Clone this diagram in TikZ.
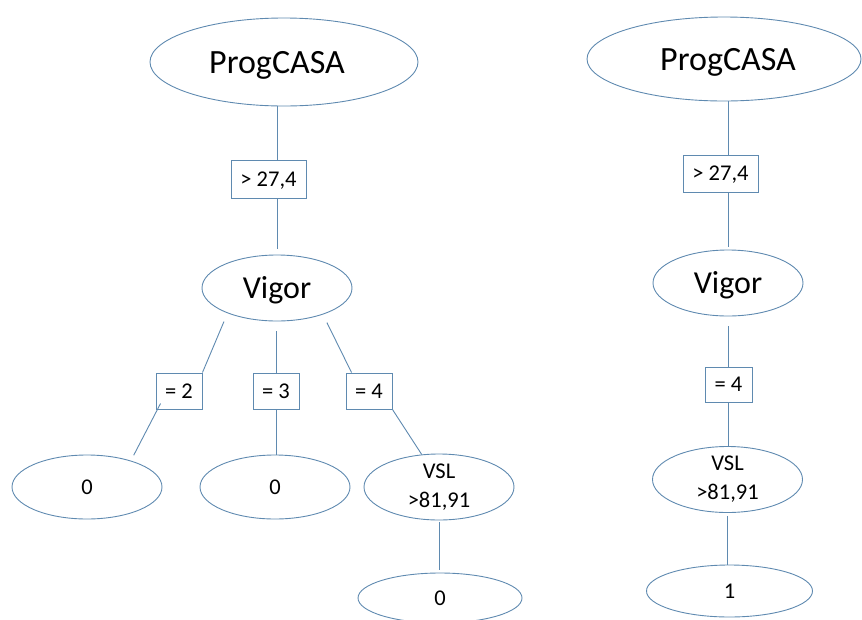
\documentclass[tikz,border=0pt]{standalone}
\usepackage{fontspec}
\setmainfont{Carlito}
\usetikzlibrary{shapes.geometric,calc}
\definecolor{edge}{RGB}{95,138,176}
\begin{document}
\begin{tikzpicture}[x=1pt,y=-1pt,
  ell/.style={draw=edge, line width=0.9pt, ellipse, inner sep=0pt},
  big/.style={font=\fontsize{32}{38}\selectfont, text height=21pt, text depth=0pt},
  bigger/.style={font=\fontsize{34}{40}\selectfont, text height=22pt, text depth=0pt},
  small/.style={font=\fontsize{22.5}{29}\selectfont},
  cond/.style={draw=edge, line width=0.9pt, rectangle, inner sep=0pt, small, text height=14.5pt, text depth=0pt},
  conn/.style={draw=edge, line width=0.9pt}]
\useasboundingbox (0,0) rectangle (862,619);

% ---------- left tree ----------
\node[ell,minimum width=268pt,minimum height=88pt,label={[bigger,xshift=-7pt]center:ProgCASA}] (P1) at (284,62) {};
\node[cond,minimum width=75pt,minimum height=38pt] (B1) at (268.5,179) {> 27,4};
\node[ell,big,minimum width=150pt,minimum height=66pt] (VigL) at (277,288) {Vigor};
\node[cond,minimum width=46pt,minimum height=36pt] (B2) at (179,391) {= 2};
\node[cond,minimum width=46pt,minimum height=36pt] (B3) at (276,391) {= 3};
\node[cond,minimum width=46pt,minimum height=36pt] (B4) at (369,391) {= 4};
\node[ell,small,minimum width=150pt,minimum height=64pt] (L0a) at (87,487) {0};
\node[ell,small,minimum width=150pt,minimum height=64pt] (L0b) at (275,487) {0};
\node[ell,minimum width=150pt,minimum height=66pt,label={[small,align=center]center:VSL\\>81,91}] (VSL1) at (439,487) {};
\node[ell,small,minimum width=164pt,minimum height=50pt] (L0c) at (440,598) {0};

\coordinate (xl) at (277,0);
\draw[conn] (xl |- P1.south) -- (xl |- B1.north);
\draw[conn,shorten >=6pt] (xl |- B1.south) -- (VigL.north);
\draw[conn,shorten <=9pt] (VigL.207) -- (B2.north east);
\draw[conn,shorten >=6pt] ([xshift=5pt,yshift=6pt]B2.south west) -- (L0a.31);
\draw[conn,shorten <=10pt] (B3.north |- VigL.south) -- (B3.north);
\draw[conn] (B3.south) -- (B3.south |- L0b.north);
\draw[conn,shorten <=9pt] (VigL.-30) -- ([xshift=6pt]B4.north west);
\draw[conn] (B4.south east) -- (VSL1.118);
\draw[conn,shorten <=2pt,shorten >=3pt] (VSL1.south) -- (VSL1.south |- L0c.north);

% ---------- right tree ----------
\node[ell,minimum width=274pt,minimum height=84pt,label={[bigger,xshift=4pt]center:ProgCASA}] (P2) at (724,59) {};
\node[cond,minimum width=75pt,minimum height=37pt] (B1R) at (720.5,173.5) {> 27,4};
\node[ell,big,minimum width=150pt,minimum height=66pt] (VigR) at (728,283) {Vigor};
\node[cond,minimum width=47pt,minimum height=35pt] (B4R) at (728.5,384.5) {= 4};
\node[ell,minimum width=150pt,minimum height=66pt,label={[small,align=center]center:VSL\\>81,91}] (VSLR) at (727.5,479.5) {};
\node[ell,small,minimum width=166pt,minimum height=52pt] (L1) at (729.5,591) {1};

\coordinate (xr) at (728,0);
\draw[conn] (xr |- P2.south) -- (xr |- B1R.north);
\draw[conn,shorten >=3pt] (xr |- B1R.south) -- (xr |- VigR.north);
\draw[conn,shorten <=10pt] (VigR.south) -- (VigR.south |- B4R.north);
\draw[conn] (xr |- B4R.south) -- (xr |- VSLR.north);
\draw[conn,shorten <=3pt] (VSLR.south) -- (VSLR.south |- L1.north);
\end{tikzpicture}
\end{document}
